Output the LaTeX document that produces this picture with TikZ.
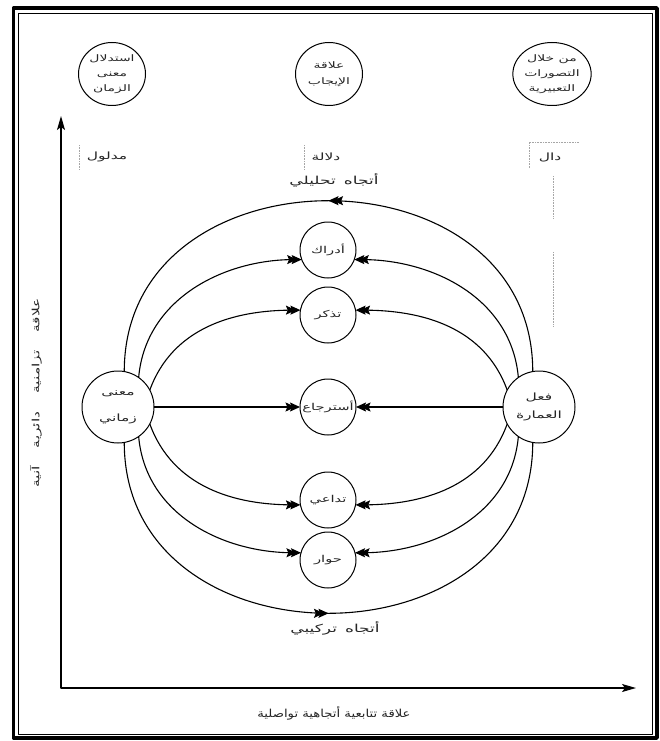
\documentclass[tikz,border=0pt]{standalone}
\usepackage{fontspec}
\newfontfamily\arabicfont[Script=Arabic, FakeStretch=1.55]{DejaVu Sans}
\newfontfamily\arabicplain[Script=Arabic, FakeStretch=1.2]{DejaVu Sans}
\TeXXeTstate=1
\usetikzlibrary{arrows.meta,decorations.markings,shapes.geometric}
\newcommand{\artxt}[1]{{\arabicfont\beginR #1\endR}}
\newcommand{\artxtp}[1]{{\arabicplain\beginR #1\endR}}
\tikzset{
  dbl/.tip={Stealth[length=10pt,width=9pt,inset=1.8pt,sep=-5.5pt] Stealth[length=10pt,width=9pt,inset=1.8pt]},
  axtip/.tip={Stealth[length=14pt,width=8pt,inset=3pt]}
}
\begin{document}
\begin{tikzpicture}[x=1pt,y=-1pt, line join=round,
  every node/.style={inner sep=0pt, outer sep=0pt, text=black!85},
  bigc/.style={circle, draw, line width=1pt, minimum size=72pt, align=center},
  midc/.style={circle, draw, line width=1pt, minimum size=56pt, font=\fontsize{9.5}{12}\selectfont},
  topc/.style={ellipse, draw, line width=1pt, minimum width=67pt, minimum height=63pt, align=center},
  conn/.style={line width=1.1pt, -dbl},
  midarr/.style={line width=1.1pt, postaction={decorate}, decoration={markings, mark=at position 0.5 with {\arrow{dbl}}}},
  lab/.style={font=\fontsize{10}{12}\selectfont},
  faint/.style={densely dotted, black!35, line width=0.6pt}]

\useasboundingbox (0,0) rectangle (660,741);
\fill[white] (0,0) rectangle (660,741);

% frame
\draw[line width=3.5pt] (13.5,8) rectangle (657,738);
\draw[line width=0.9pt] (18.5,13) rectangle (652,734);

% top circles
\node[topc, font=\fontsize{9}{15}\selectfont] (t1) at (112,74) {\artxt{استدلال}\\\artxt{معنى}\\\artxt{الزمان}};
\node[topc, font=\fontsize{9}{16}\selectfont] (t2) at (329,74) {\artxt{علاقة}\\\artxt{الإيجاب}};
\node[topc, font=\fontsize{9}{15}\selectfont] (t3) at (552,74) {\artxt{من خلال}\\\artxt{التصورات}\\\artxt{التعبيرية}};

% axes
\coordinate (ytop) at (61,116);
\coordinate (o) at (61,688);
\coordinate (xend) at (636,688);
\draw[line width=1.4pt, {axtip}-{axtip}] (ytop) -- (o) -- (xend);

% labels row
\node[lab] (l1) at (107,157) {\artxt{مدلول}};
\node[lab] (l2) at (326,157) {\artxt{دلالة}};
\node[lab] (l3) at (550,157) {\artxt{دال}};
\draw[faint] (79,145) -- (79,170);
\draw[faint] (304,145) -- (304,170);
\draw[faint] (529,168) -- (529,142) -- (579,142);
\draw[faint] (553,176) -- (553,218);
\draw[faint] (553,252) -- (553,326);

\node[lab, font=\fontsize{11}{13}\selectfont] (an) at (334,180) {\artxt{أتجاه\hspace{8pt}تحليلي}};
\node[lab, font=\fontsize{11}{13}\selectfont] (sy) at (335,628) {\artxt{أتجاه\hspace{8pt}تركيبي}};
\node[lab, rotate=90] (va) at (36,393) {\artxt{علاقة\hspace{18pt}تزامنية\hspace{18pt}دائرية\hspace{18pt}آنية}};
\node[lab, font=\fontsize{11}{13}\selectfont] (ha) at (334,713) {\artxtp{علاقة تتابعية أتجاهية تواصلية}};

% centre circles
\node[midc] (c1) at (328,250) {\artxt{أدراك}};
\node[midc] (c2) at (328,315) {\artxt{تذكر}};
\node[midc] (c3) at (328,407) {\artxt{أسترجاع}};
\node[midc] (c4) at (328,500) {\artxt{تداعي}};
\node[midc] (c5) at (328,560) {\artxt{حوار}};

% side circles
\node[bigc, font=\fontsize{10}{26}\selectfont] (L) at (118,407) {\artxt{معنى}\\\artxt{زماني}};
\node[bigc, font=\fontsize{10}{18}\selectfont] (R) at (539,407) {\artxt{فعل}\\\artxt{العمارة}};

% outer arcs
\draw[midarr] (R.100) to[out=90,in=90,looseness=1.43] (L.80);
\draw[midarr] (L.-80) to[out=-90,in=-90,looseness=1.43] (R.-100);

% connectors from the left
\draw[conn] (L.55) to[out=85,in=180] (c1.200);
\draw[conn] (L.28) to[out=70,in=180] (c2.170);
\draw[conn] (L.east) -- (c3.west);
\draw[conn] (L.-28) to[out=-70,in=180] (c4.190);
\draw[conn] (L.-55) to[out=-85,in=180] (c5.165);

% connectors from the right
\draw[conn] (R.125) to[out=95,in=0] (c1.-20);
\draw[conn] (R.152) to[out=110,in=0] (c2.10);
\draw[conn] (R.west) -- (c3.east);
\draw[conn] (R.208) to[out=-110,in=0] (c4.-10);
\draw[conn] (R.235) to[out=-95,in=0] (c5.15);
\end{tikzpicture}
\end{document}
